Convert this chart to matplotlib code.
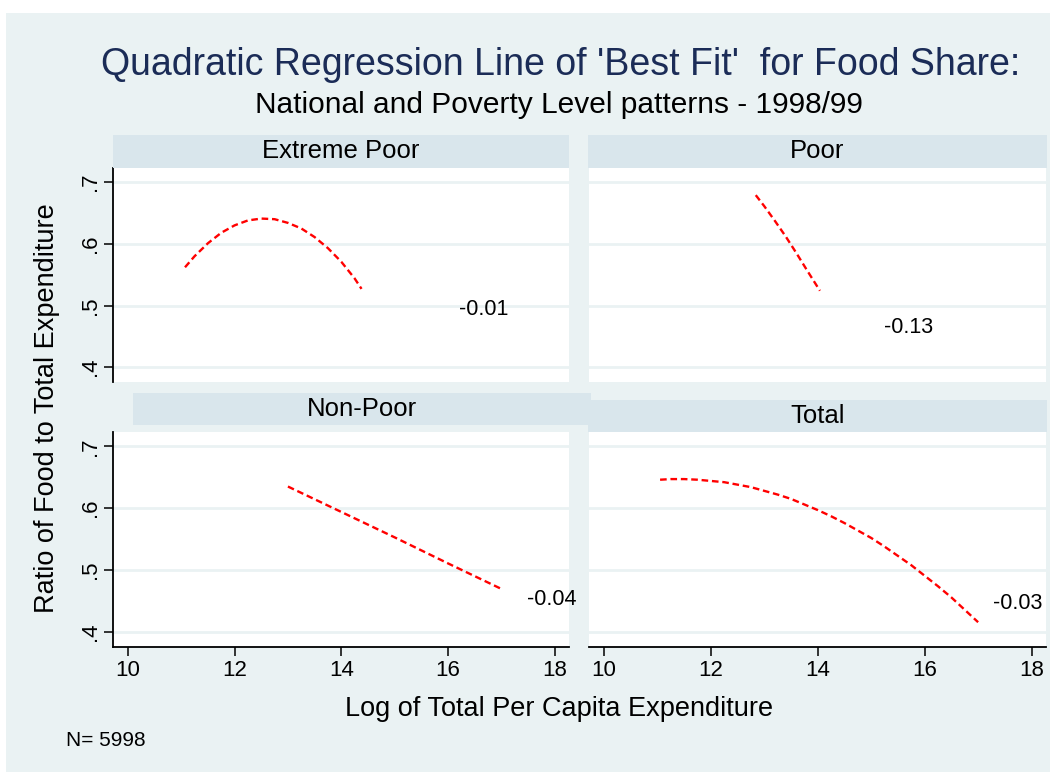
import matplotlib
matplotlib.use("Agg")
import matplotlib.pyplot as plt
from matplotlib.patches import Rectangle

plt.rcParams["font.family"] = ["Liberation Sans", "DejaVu Sans"]

W, H = 1050, 772
BG = "#eaf2f3"
STRIP = "#d9e6ec"
NAVY = "#1b2c57"

# fitted food-share curves
ext_x = [11.07, 11.25, 11.5, 11.75, 12.0, 12.25, 12.5, 12.75, 13.0, 13.25,
         13.5, 13.75, 14.0, 14.25, 14.38]
ext_y = [0.562, 0.580, 0.601, 0.618, 0.630, 0.638, 0.641, 0.640, 0.634, 0.625,
         0.611, 0.593, 0.571, 0.544, 0.527]
poor_x = [12.84, 13.0, 13.2, 13.4, 13.6, 13.8, 14.04]
poor_y = [0.679, 0.661, 0.637, 0.612, 0.585, 0.557, 0.524]
nonpoor_x = [13.0, 14.0, 15.0, 16.0, 17.02]
nonpoor_y = [0.635, 0.594, 0.553, 0.511, 0.469]
total_x = [11.05, 11.25, 11.5, 11.75, 12.0, 12.25, 12.5, 12.75, 13.0, 13.25, 13.5,
           13.75, 14.0, 14.25, 14.5, 14.75, 15.0, 15.25, 15.5, 15.75, 16.0, 16.25,
           16.5, 16.75, 17.0]
total_y = [0.646, 0.647, 0.647, 0.646, 0.644, 0.642, 0.638, 0.634, 0.628, 0.622, 0.615,
           0.606, 0.597, 0.587, 0.576, 0.564, 0.552, 0.538, 0.523, 0.508, 0.491, 0.474,
           0.456, 0.436, 0.416]

panels = ["Extreme Poor", "Poor", "Non-Poor", "Total"]
slopes = ["-0.01", "-0.13", "-0.04", "-0.03"]
slope_pos = [(16.2, 0.494), (15.23, 0.464), (17.49, 0.452), (17.28, 0.447)]
xticks = [10, 12, 14, 16, 18]
yticks = [0.4, 0.5, 0.6, 0.7]
ytick_labels = [".4", ".5", ".6", ".7"]


def box(x0, y0, x1, y1):
    # pixel box (top-left origin) -> figure fraction rect
    return [x0 / W, 1 - y1 / H, (x1 - x0) / W, (y1 - y0) / H]


def fx(px):
    return px / W


def fy(py):
    return 1 - py / H


fig = plt.figure(figsize=(W / 100, H / 100), dpi=100)
fig.patch.set_facecolor("white")
fig.patches.append(Rectangle((fx(6), 0), 1 - fx(6), fy(13), transform=fig.transFigure,
                             facecolor=BG, edgecolor="none", zorder=-10))

plot_boxes = [(113, 168, 569, 382), (589, 168, 1046, 382),
              (113, 432, 569, 647), (589, 432, 1046, 647)]
strip_boxes = [(113, 135, 569, 168), (588, 135, 1047, 168),
               (133, 393, 591, 425), (588, 400, 1047, 432)]
curves = [(ext_x, ext_y), (poor_x, poor_y), (nonpoor_x, nonpoor_y), (total_x, total_y)]

for i, name in enumerate(panels):
    ax = fig.add_axes(box(*plot_boxes[i]))
    ax.set_facecolor("white")
    ax.set_xlim(9.72, 18.27)
    ax.set_ylim(0.376, 0.723)
    for y in yticks:
        ax.axhline(y, color=BG, lw=2, zorder=0)
    ax.plot(curves[i][0], curves[i][1], color="red", lw=1.7,
            linestyle=(0, (2.8, 1.6)), zorder=3)
    sx, sy = slope_pos[i]
    ax.text(sx, sy, slopes[i], fontsize=15.5, ha="left", va="center", clip_on=False)

    for s in ["top", "right", "left", "bottom"]:
        ax.spines[s].set_visible(False)
    left = i in (0, 2)
    bottom = i in (2, 3)
    if left:
        ax.spines["left"].set_visible(True)
        ax.spines["left"].set_linewidth(1.3)
        ax.set_yticks(yticks)
        ax.set_yticklabels(ytick_labels, rotation=90, va="center", fontsize=16)
        ax.tick_params(axis="y", length=6.5, width=1.1, pad=2)
    else:
        ax.set_yticks([])
    if bottom:
        ax.spines["bottom"].set_visible(True)
        ax.spines["bottom"].set_linewidth(1.3)
        ax.set_xticks(xticks)
        ax.set_xticklabels([str(t) for t in xticks], fontsize=16)
        ax.tick_params(axis="x", length=6.5, width=1.1, pad=3)
    else:
        ax.set_xticks([])

    sb = strip_boxes[i]
    fig.patches.append(Rectangle((fx(sb[0]), fy(sb[3])), fx(sb[2]) - fx(sb[0]),
                                 fy(sb[1]) - fy(sb[3]), transform=fig.transFigure,
                                 facecolor=STRIP, edgecolor="none", zorder=5))
    fig.text(fx((sb[0] + sb[2]) / 2), fy((sb[1] + sb[3]) / 2), name,
             ha="center", va="center", fontsize=18.5, zorder=6)

fig.text(fx(561), fy(65), "Quadratic Regression Line of 'Best Fit'  for Food Share:",
         ha="center", va="center", fontsize=27, color=NAVY)
fig.text(fx(559), fy(105), "National and Poverty Level patterns - 1998/99",
         ha="center", va="center", fontsize=21.5)
fig.text(fx(47), fy(408), "Ratio of Food to Total Expenditure", rotation=90,
         ha="center", va="center", fontsize=19.5)
fig.text(fx(559), fy(709), "Log of Total Per Capita Expenditure",
         ha="center", va="center", fontsize=19.5)
fig.text(fx(66), fy(740), "N= 5998", ha="left", va="center", fontsize=15)

fig.savefig("out.png", dpi=100, facecolor=fig.get_facecolor())
